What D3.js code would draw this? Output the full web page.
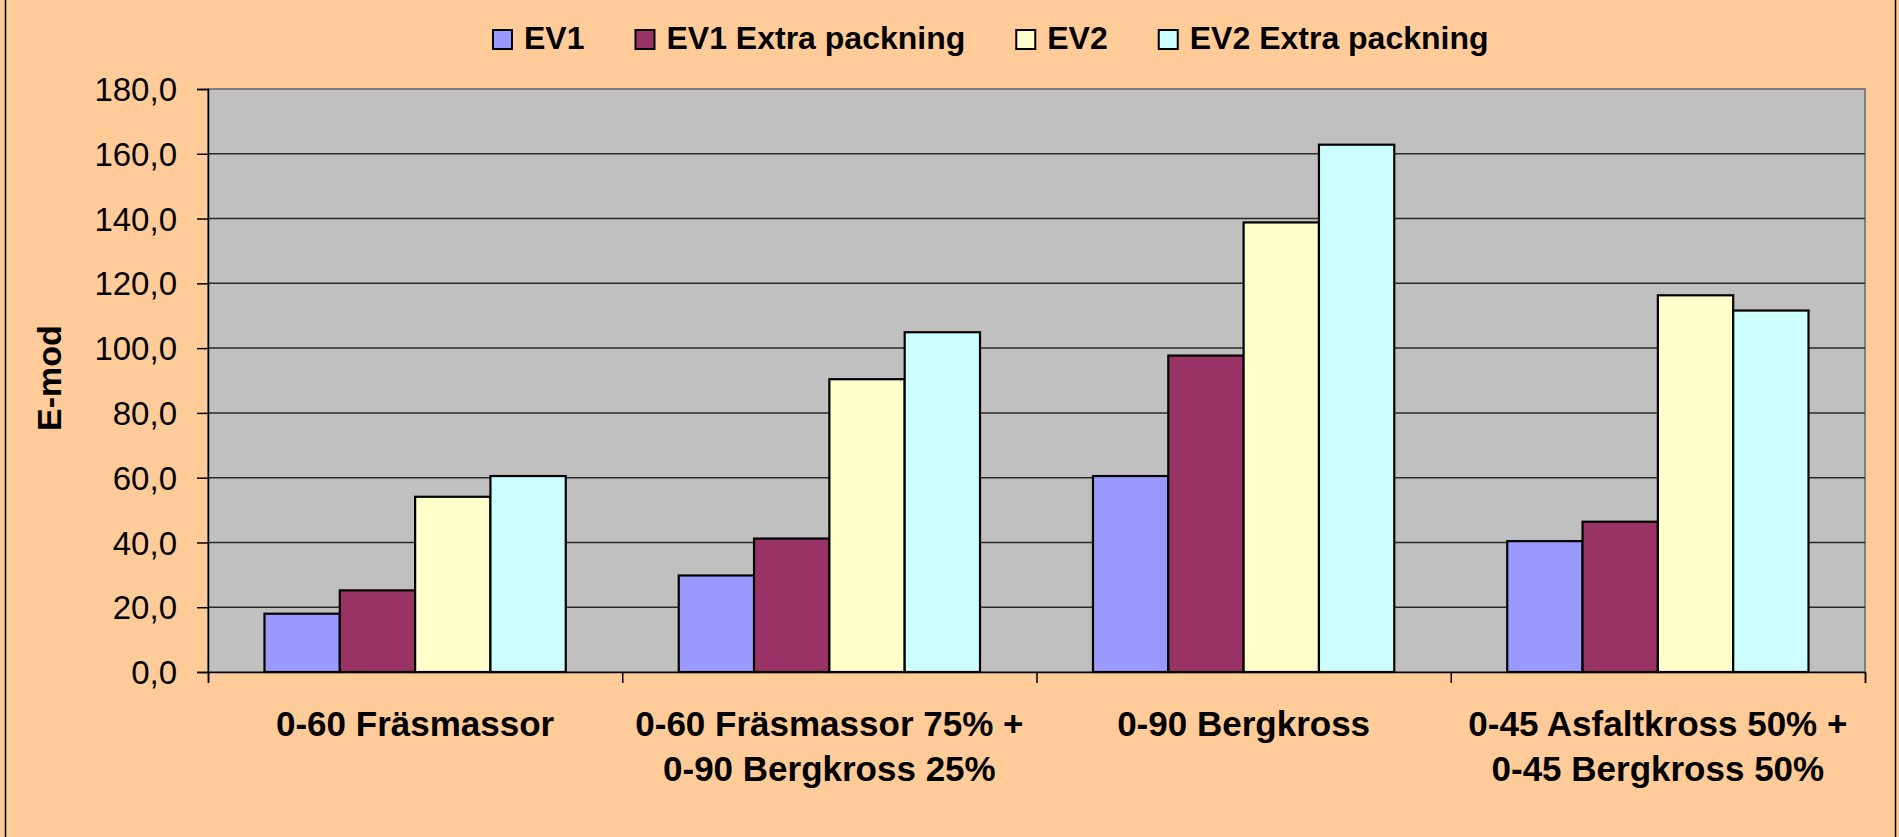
<!DOCTYPE html>
<html>
<head>
<meta charset="utf-8">
<script src="https://cdn.jsdelivr.net/npm/d3@7"></script>
<style>
  html, body { margin: 0; padding: 0; background: #FFCC99; }
  svg { display: block; }
  text { font-family: "Liberation Sans", Arial, sans-serif; fill: #000; }
</style>
</head>
<body>
<svg id="chart" width="1899" height="837"></svg>
<script>
const categories = [
  ["0-60 Fräsmassor"],
  ["0-60 Fräsmassor 75% +", "0-90 Bergkross 25%"],
  ["0-90 Bergkross"],
  ["0-45 Asfaltkross 50% +", "0-45 Bergkross 50%"]
];
const seriesNames = ["EV1", "EV1 Extra packning", "EV2", "EV2 Extra packning"];
const seriesColors = ["#9999FF", "#993366", "#FFFFCC", "#CCFFFF"];
const ev1 = [18.0, 29.8, 60.5, 40.4];
const ev1Extra = [25.2, 41.2, 97.7, 46.4];
const ev2 = [54.1, 90.4, 138.8, 116.3];
const ev2Extra = [60.5, 104.9, 162.8, 111.6];
const yTicks = [0, 20, 40, 60, 80, 100, 120, 140, 160, 180];
const yTitle = "E-mod";

const seriesValues = [ev1, ev1Extra, ev2, ev2Extra];

const svg = d3.select("#chart");
const W = 1899, H = 837;
const plot = { left: 208, right: 1865, top: 89, bottom: 672 };

// outer chart border (left/right edges)
svg.append("rect")
  .attr("x", 5.5).attr("y", -10)
  .attr("width", 1890).attr("height", H + 20)
  .attr("fill", "#FFCC99").attr("stroke", "#000").attr("stroke-width", 1.5);

const x0 = d3.scaleBand()
  .domain(d3.range(categories.length))
  .range([plot.left, plot.right])
  .paddingInner(0).paddingOuter(0);

const step = x0.bandwidth();
const barW = step / 5.5;
const x1 = d3.scaleBand()
  .domain(d3.range(seriesNames.length))
  .range([barW * 0.75, step - barW * 0.75])
  .padding(0);

const y = d3.scaleLinear().domain([0, 180]).range([plot.bottom, plot.top]);

// plot background
svg.append("rect")
  .attr("x", plot.left).attr("y", plot.top)
  .attr("width", plot.right - plot.left).attr("height", plot.bottom - plot.top)
  .attr("fill", "#C0C0C0")
  .attr("stroke", "#808080").attr("stroke-width", 2);

// gridlines
svg.append("g")
  .selectAll("line")
  .data(yTicks.filter(d => d > 0 && d < 180))
  .join("line")
  .attr("x1", plot.left).attr("x2", plot.right)
  .attr("y1", d => y(d)).attr("y2", d => y(d))
  .attr("stroke", "#2a2a2a").attr("stroke-width", 1.5);

// bars
const groups = svg.append("g")
  .selectAll("g")
  .data(categories.map((c, i) => i))
  .join("g")
  .attr("transform", i => `translate(${x0(i)},0)`);

groups.selectAll("rect")
  .data(i => seriesValues.map((s, k) => ({ k, v: s[i] })))
  .join("rect")
  .attr("x", d => x1(d.k))
  .attr("width", x1.bandwidth())
  .attr("y", d => y(d.v))
  .attr("height", d => y(0) - y(d.v))
  .attr("fill", d => seriesColors[d.k])
  .attr("stroke", "#000")
  .attr("stroke-width", 2.2);

// y axis
const yAxis = d3.axisLeft(y)
  .tickValues(yTicks)
  .tickSize(11)
  .tickPadding(20)
  .tickFormat(d => d3.format(".1f")(d).replace(".", ","));

const gy = svg.append("g")
  .attr("transform", `translate(${plot.left},0)`)
  .call(yAxis);
gy.select(".domain").attr("stroke", "#000").attr("stroke-width", 1.5);
gy.selectAll(".tick line").attr("stroke", "#000").attr("stroke-width", 1.5);
gy.selectAll(".tick text")
  .attr("font-size", 33)
  .attr("font-family", "Liberation Sans, Arial, sans-serif")
  .attr("dy", "0.35em")
  .attr("fill", "#000");

// x axis (ticks at category boundaries)
const xb = d3.scaleLinear().domain([0, categories.length]).range([plot.left, plot.right]);
const xAxis = d3.axisBottom(xb)
  .tickValues(d3.range(categories.length + 1))
  .tickSize(11)
  .tickFormat("");
const gx = svg.append("g")
  .attr("transform", `translate(0,${plot.bottom})`)
  .call(xAxis);
gx.select(".domain").attr("stroke", "#000").attr("stroke-width", 1.5);
gx.selectAll(".tick line").attr("stroke", "#000").attr("stroke-width", 1.5);

// category labels
const catLabels = svg.append("g");
categories.forEach((lines, i) => {
  const t = catLabels.append("text")
    .attr("x", x0(i) + step / 2)
    .attr("y", 736)
    .attr("text-anchor", "middle")
    .attr("font-size", 35)
    .attr("font-weight", "bold");
  lines.forEach((ln, j) => {
    t.append("tspan")
      .attr("x", x0(i) + step / 2)
      .attr("dy", j === 0 ? 0 : 45)
      .text(ln);
  });
});

// y axis title
svg.append("text")
  .attr("transform", `translate(61,378) rotate(-90)`)
  .attr("text-anchor", "middle")
  .attr("font-size", 34)
  .attr("font-weight", "bold")
  .text(yTitle);

// legend
const legend = svg.append("g");
let lx = 493;
seriesNames.forEach((name, k) => {
  legend.append("rect")
    .attr("x", lx).attr("y", 30)
    .attr("width", 19).attr("height", 19)
    .attr("fill", seriesColors[k])
    .attr("stroke", "#000").attr("stroke-width", 2);
  const t = legend.append("text")
    .attr("x", lx + 31).attr("y", 49)
    .attr("font-size", 32)
    .attr("font-weight", "bold")
    .text(name);
  const w = t.node().getComputedTextLength();
  lx = lx + 31 + w + 51;
});
</script>
</body>
</html>
